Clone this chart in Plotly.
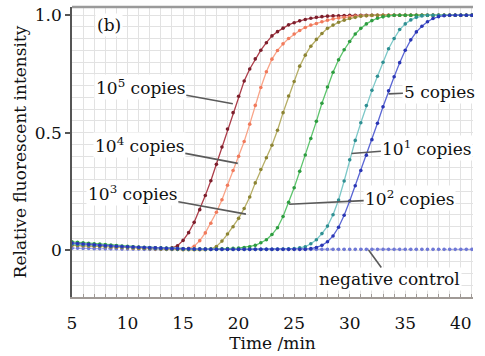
import plotly.graph_objects as go

# ---------------- data ----------------
time_min = [5, 5.5, 6, 6.5, 7, 7.5, 8, 8.5, 9, 9.5,
            10, 10.5, 11, 11.5, 12, 12.5, 13, 13.5, 14, 14.5,
            15, 15.5, 16, 16.5, 17, 17.5, 18, 18.5, 19, 19.5,
            20, 20.5, 21, 21.5, 22, 22.5, 23, 23.5, 24, 24.5,
            25, 25.5, 26, 26.5, 27, 27.5, 28, 28.5, 29, 29.5,
            30, 30.5, 31, 31.5, 32, 32.5, 33, 33.5, 34, 34.5,
            35, 35.5, 36, 36.5, 37, 37.5, 38, 38.5, 39, 39.5,
            40, 40.5, 41]

copies_1e5 = [0.025, 0.024, 0.023, 0.021, 0.020, 0.018, 0.017, 0.016, 0.015, 0.014,
              0.013, 0.012, 0.011, 0.010, 0.009, 0.008, 0.007, 0.006, 0.009, 0.018,
              0.041, 0.074, 0.118, 0.172, 0.232, 0.295, 0.365, 0.439, 0.515, 0.585,
              0.655, 0.720, 0.771, 0.814, 0.851, 0.883, 0.912, 0.930, 0.945, 0.959,
              0.968, 0.976, 0.982, 0.987, 0.991, 0.994, 0.996, 0.997, 0.998, 0.999,
              1.0, 1.0, 1.0, 1.0, 1.0, 1.0, 1.0, 1.0, 1.0, 1.0,
              1.0, 1.0, 1.0, 1.0, 1.0, 1.0, 1.0, 1.0, 1.0, 1.0,
              1.0, 1.0, 1.0]

copies_1e4 = [0.020, 0.019, 0.018, 0.017, 0.016, 0.015, 0.014, 0.013, 0.012, 0.011,
              0.010, 0.009, 0.008, 0.008, 0.007, 0.006, 0.006, 0.005, 0.005, 0.004,
              0.004, 0.007, 0.016, 0.040, 0.073, 0.114, 0.161, 0.214, 0.276, 0.339,
              0.399, 0.462, 0.536, 0.616, 0.692, 0.759, 0.813, 0.850, 0.878, 0.901,
              0.920, 0.935, 0.948, 0.958, 0.965, 0.972, 0.979, 0.984, 0.988, 0.991,
              0.994, 0.996, 0.997, 0.998, 0.999, 1.0, 1.0, 1.0, 1.0, 1.0,
              1.0, 1.0, 1.0, 1.0, 1.0, 1.0, 1.0, 1.0, 1.0, 1.0,
              1.0, 1.0, 1.0]

copies_1e3 = [0.020, 0.019, 0.018, 0.017, 0.016, 0.015, 0.014, 0.013, 0.012, 0.011,
              0.010, 0.009, 0.008, 0.007, 0.006, 0.005, 0.004, 0.003, 0.002, 0.002,
              0.001, 0.001, 0.001, 0.001, 0.001, 0.004, 0.015, 0.038, 0.068, 0.099,
              0.135, 0.177, 0.226, 0.286, 0.343, 0.393, 0.446, 0.510, 0.585, 0.656,
              0.718, 0.783, 0.830, 0.868, 0.897, 0.922, 0.944, 0.958, 0.970, 0.979,
              0.986, 0.991, 0.996, 0.998, 1.0, 1.0, 1.0, 1.0, 1.0, 1.0,
              1.0, 1.0, 1.0, 1.0, 1.0, 1.0, 1.0, 1.0, 1.0, 1.0,
              1.0, 1.0, 1.0]

copies_1e2 = [0.035, 0.033, 0.031, 0.029, 0.027, 0.025, 0.023, 0.021, 0.019, 0.017,
              0.016, 0.014, 0.013, 0.012, 0.011, 0.010, 0.009, 0.008, 0.007, 0.006,
              0.005, 0.005, 0.004, 0.004, 0.004, 0.004, 0.004, 0.005, 0.006, 0.007,
              0.008, 0.011, 0.014, 0.020, 0.031, 0.044, 0.066, 0.095, 0.143, 0.203,
              0.265, 0.335, 0.405, 0.475, 0.548, 0.625, 0.694, 0.757, 0.810, 0.853,
              0.888, 0.920, 0.944, 0.963, 0.977, 0.987, 0.993, 0.997, 1.0, 1.0,
              1.0, 1.0, 1.0, 1.0, 1.0, 1.0, 1.0, 1.0, 1.0, 1.0,
              1.0, 1.0, 1.0]

copies_1e1 = [0.025, 0.024, 0.023, 0.021, 0.020, 0.018, 0.017, 0.016, 0.015, 0.014,
              0.013, 0.012, 0.011, 0.010, 0.009, 0.008, 0.007, 0.006, 0.006, 0.005,
              0.005, 0.004, 0.004, 0.004, 0.003, 0.003, 0.003, 0.003, 0.003, 0.003,
              0.003, 0.003, 0.003, 0.003, 0.003, 0.003, 0.003, 0.004, 0.004, 0.005,
              0.006, 0.009, 0.014, 0.027, 0.044, 0.070, 0.102, 0.150, 0.213, 0.294,
              0.384, 0.467, 0.542, 0.615, 0.680, 0.740, 0.800, 0.857, 0.901, 0.939,
              0.963, 0.980, 0.991, 0.997, 1.0, 1.0, 1.0, 1.0, 1.0, 1.0,
              1.0, 1.0, 1.0]

copies_5 = [0.030, 0.028, 0.026, 0.024, 0.022, 0.020, 0.018, 0.017, 0.016, 0.015,
            0.014, 0.013, 0.012, 0.011, 0.010, 0.009, 0.008, 0.007, 0.006, 0.006,
            0.005, 0.005, 0.004, 0.004, 0.004, 0.003, 0.003, 0.003, 0.003, 0.003,
            0.003, 0.003, 0.003, 0.003, 0.003, 0.003, 0.003, 0.003, 0.003, 0.003,
            0.003, 0.003, 0.003, 0.006, 0.011, 0.020, 0.035, 0.060, 0.097, 0.148,
            0.209, 0.274, 0.339, 0.404, 0.470, 0.540, 0.610, 0.678, 0.738, 0.798,
            0.851, 0.895, 0.929, 0.953, 0.972, 0.986, 0.994, 0.998, 1.0, 1.0,
            1.0, 1.0, 1.0]

negative_control = [0.008, 0.008, 0.007, 0.007, 0.006, 0.006, 0.005, 0.005, 0.005, 0.004,
                    0.004, 0.004, 0.004, 0.003, 0.003, 0.003, 0.003, 0.003, 0.003, 0.003,
                    0.003, 0.003, 0.003, 0.003, 0.003, 0.003, 0.003, 0.003, 0.003, 0.003,
                    0.003, 0.003, 0.003, 0.003, 0.003, 0.003, 0.003, 0.003, 0.003, 0.003,
                    0.003, 0.003, 0.003, 0.003, 0.003, 0.003, 0.003, 0.003, 0.003, 0.003,
                    0.003, 0.003, 0.003, 0.003, 0.003, 0.003, 0.003, 0.003, 0.003, 0.003,
                    0.003, 0.003, 0.003, 0.003, 0.003, 0.003, 0.003, 0.003, 0.003, 0.003,
                    0.003, 0.003, 0.003]

x_ticks = [5, 10, 15, 20, 25, 30, 35, 40]
y_ticks = [0, 0.5, 1.0]
y_tick_labels = ["0", "0.5", "1.0"]

# label text, label position (time, intensity), pointer end (time, intensity)
labels = [
    ("10<sup>5</sup> copies", 11.15, 0.695, 19.48, 0.623),
    ("10<sup>4</sup> copies", 11.06, 0.449, 19.93, 0.369),
    ("10<sup>3</sup> copies", 10.43, 0.242, 20.66, 0.153),
    ("10<sup>2</sup> copies", 35.40, 0.220, 24.55, 0.195),
    ("10<sup>1</sup> copies", 36.95, 0.436, 30.16, 0.411),
    ("5 copies", 38.12, 0.674, 33.50, 0.665),
    ("negative control", 33.60, -0.123, 31.70, 0.000),
]

# ---------------- styling ----------------
FONT = "DejaVu Serif"
series = [
    ("negative control", negative_control, "#a7a9e6", "#6f78d6", "dot"),
    ("10^5", copies_1e5, "#ad3e4a", "#7c1f2c", "solid"),
    ("10^4", copies_1e4, "#f9a488", "#f07a5c", "solid"),
    ("10^3", copies_1e3, "#b6ae66", "#8c8434", "solid"),
    ("10^2", copies_1e2, "#5cc46c", "#2e9c40", "solid"),
    ("10^1", copies_1e1, "#7cc8c8", "#2f8f92", "solid"),
    ("5", copies_5, "#5a66d4", "#2a36b4", "solid"),
]

fig = go.Figure()
for name, vals, lc, mc, dash in series:
    fig.add_trace(go.Scatter(
        x=time_min, y=vals, mode="lines+markers", name=name,
        line=dict(color=lc, width=1.3, dash=dash),
        marker=dict(color=mc, size=3.6),
        showlegend=False,
    ))

for text, tx, ty, px, py in labels:
    fig.add_annotation(
        x=px, y=py, ax=tx, ay=ty, xref="x", yref="y", axref="x", ayref="y",
        text=text, showarrow=True, arrowhead=0, arrowwidth=1.6,
        arrowcolor="#5a5a5a", bgcolor="white", borderpad=1,
        font=dict(family=FONT, size=17, color="#111"),
    )

fig.add_annotation(x=0.057, y=0.958, xref="paper", yref="y", text="(b)",
                   showarrow=False, font=dict(family=FONT, size=17, color="#111"),
                   bgcolor="white")

grid = "#e2e2e2"
fig.update_layout(
    width=485, height=356,
    margin=dict(l=72, r=12, t=5, b=59),
    paper_bgcolor="white", plot_bgcolor="white",
    font=dict(family=FONT, size=17, color="#111"),
    xaxis=dict(
        range=[5, 41.1], tickvals=x_ticks, showgrid=True, gridcolor=grid, gridwidth=1,
        zeroline=False, showline=True, linecolor="#a09a96", linewidth=2,
        ticks="inside", ticklen=3, tickcolor="#a09a96",
        minor=dict(dtick=1, tick0=5, showgrid=True, gridcolor=grid, gridwidth=1,
                   ticks="inside", ticklen=3, tickcolor="#a09a96"),
        ticklabelstandoff=10,
        title=dict(text="Time /min", font=dict(family=FONT, size=17), standoff=4),
        tickfont=dict(family=FONT, size=17),
    ),
    yaxis=dict(
        range=[-0.2, 1.035], tickvals=y_ticks, ticktext=y_tick_labels,
        showgrid=True, gridcolor=grid, gridwidth=1, zeroline=False,
        showline=True, linecolor="#555", linewidth=1.5,
        ticks="outside", ticklen=5, tickcolor="#555", tickwidth=1.5,
        minor=dict(dtick=0.05, tick0=0, showgrid=True, gridcolor=grid, gridwidth=1),
        title=dict(text="Relative fluorescent intensity", font=dict(family=FONT, size=17), standoff=4),
        tickfont=dict(family=FONT, size=17),
    ),
    shapes=[dict(type="line", xref="paper", yref="paper", x0=0, x1=1, y0=1, y1=1,
                 line=dict(color="#9a9a9a", width=2.5))],
)

fig.write_html("out.html", config={"displayModeBar": False},
               post_script="document.body.style.margin='0px';")
